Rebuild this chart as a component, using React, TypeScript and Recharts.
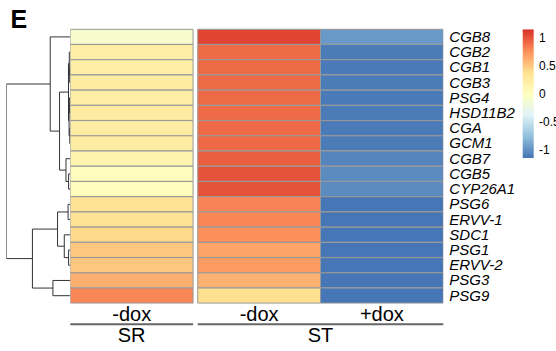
import React from 'react';
import { BarChart, Bar, XAxis, YAxis, Cell, ScatterChart, Scatter } from 'recharts';

// ---------- data ----------
const genes = ['CGB8', 'CGB2', 'CGB1', 'CGB3', 'PSG4', 'HSD11B2', 'CGA', 'GCM1', 'CGB7', 'CGB5', 'CYP26A1', 'PSG6', 'ERVV-1', 'SDC1', 'PSG1', 'ERVV-2', 'PSG3', 'PSG9'];
const srMinusDox = [-0.1, 0.22, 0.22, 0.24, 0.22, 0.23, 0.24, 0.23, 0.14, 0.03, 0.03, 0.36, 0.36, 0.42, 0.5, 0.5, 0.61, 0.8];
const stMinusDox = [1.07, 0.91, 0.92, 0.91, 0.92, 0.91, 0.91, 0.92, 0.96, 1.01, 1.01, 0.81, 0.8, 0.76, 0.66, 0.7, 0.6, 0.38];
const stPlusDox = [-0.97, -1.12, -1.13, -1.12, -1.13, -1.12, -1.13, -1.12, -1.07, -1.04, -1.04, -1.15, -1.15, -1.15, -1.15, -1.15, -1.15, -1.15];
const columnLabels = ['-dox', '-dox', '+dox'];
const groupLabels = ['SR', 'ST'];
const groupColumns = [[0, 0], [1, 2]];
const legendTicks = [-1, -0.5, 0, 0.5, 1];
const paletteColors = ['#4575B4', '#91BFDB', '#E0F3F8', '#FFFFBF', '#FEE090', '#FC8D59', '#D73027'];
const zMax = 1.155;
// hclust-style merges: negative = leaf (1-based row), positive = earlier merge
const mergeMatrix = [
  [-7, -8], [-3, -4], [-5, -6], [-2, 2], [3, 1], [-10, -11], [-15, -16], [4, 5], [-12, -13],
  [-9, 6], [-14, 7], [8, 10], [9, 11], [-17, -18], [-1, 12], [13, 14], [15, 16],
];
const mergeHeights = [0.5, 0.6, 0.7, 1.0, 1.2, 1.7, 1.7, 1.8, 2.2, 4.3, 6, 10.7, 12.7, 17.3, 20, 37.7, 63.7];

// ---------- layout ----------
const W = 556;
const H = 351;
const HM_LEFT = 70.3;
const HM_RIGHT = 443.3;
const TOP = 29.3;
const BOTTOM = 303.3;
const GAP = 0.038;
const colStarts = [0, 1 + GAP, 2 + GAP];
const TOTAL = 3 + GAP;
const PX = (HM_RIGHT - HM_LEFT) / TOTAL;
const colCenters = colStarts.map((s) => s + 0.5);
const groupCenters = groupColumns.map(([a, b]) => (colStarts[a] + colStarts[b] + 1) / 2);
const FONT = "'Liberation Sans', Arial, Helvetica, sans-serif";

function hexToRgb(h: string) {
  const n = parseInt(h.slice(1), 16);
  return [(n >> 16) & 255, (n >> 8) & 255, n & 255];
}
function colorFor(z: number) {
  const n = paletteColors.length;
  let t = (z + zMax) / (2 * zMax);
  t = Math.max(0, Math.min(1, t));
  const pos = t * (n - 1);
  const i = Math.min(Math.floor(pos), n - 2);
  const f = pos - i;
  const a = hexToRgb(paletteColors[i]);
  const b = hexToRgb(paletteColors[i + 1]);
  const c = a.map((v, k) => Math.round(v + (b[k] - v) * f));
  return `rgb(${c[0]},${c[1]},${c[2]})`;
}

const rows = genes.map((gene) => ({ gene, sr: 1, gap: GAP, stm: 1, stp: 1 }));

// dendrogram segments
type Node = { h: number; r: number };
const nodes: Node[] = [];
const getNode = (id: number): Node => (id < 0 ? { h: 0, r: -id - 0.5 } : nodes[id - 1]);
const dendroSegments = mergeMatrix.map(([a, b], i) => {
  const A = getNode(a);
  const B = getNode(b);
  const h = mergeHeights[i];
  nodes.push({ h, r: (A.r + B.r) / 2 });
  return [
    { h: A.h, r: A.r },
    { h, r: A.r },
    { h, r: B.r },
    { h: B.h, r: B.r },
  ];
});

const ColTick = (props: any) => {
  const { x, y, index } = props;
  return (
    <text x={x} y={y + 18} textAnchor="middle" fontSize={20} fill="#000" fontFamily={FONT}>
      {columnLabels[index]}
    </text>
  );
};

const GroupTick = (props: any) => {
  const { x, y, index } = props;
  const [a, b] = groupColumns[index];
  const half = ((colStarts[b] + 1 - colStarts[a]) / 2) * PX;
  return (
    <g>
      <line x1={x - half} x2={x + half} y1={y + 1} y2={y + 1} stroke="#666" strokeWidth={2} />
      <text x={x} y={y + 18.2} textAnchor="middle" fontSize={20} fill="#000" fontFamily={FONT}>
        {groupLabels[index]}
      </text>
    </g>
  );
};

const GeneTick = (props: any) => {
  const { x, y, payload } = props;
  return (
    <text x={x} y={y + 5} textAnchor="start" fontSize={15} fontStyle="italic" fill="#000" fontFamily={FONT}>
      {payload.value}
    </text>
  );
};

const layer: React.CSSProperties = { position: 'absolute', left: 0, top: 0 };

export default function App() {
  const YW = 100;
  return (
    <div style={{ position: 'absolute', left: 0, top: 0, width: W, height: H, background: '#fff', fontFamily: FONT, overflow: 'hidden' }}>
      <div style={layer}>
        <svg width={60} height={40}>
          <text x={10.5} y={28} fontSize={25} fontWeight="bold" fill="#000" fontFamily={FONT}>E</text>
        </svg>
      </div>

      {/* dendrogram */}
      <div style={layer}>
        <ScatterChart width={W} height={H} margin={{ top: TOP, bottom: H - BOTTOM, left: 6.3, right: W - HM_LEFT }}>
          <XAxis type="number" dataKey="h" domain={[0, 63.7]} reversed hide allowDataOverflow />
          <YAxis type="number" dataKey="r" domain={[0, genes.length]} reversed hide allowDataOverflow />
          {dendroSegments.map((seg, i) => (
            <Scatter
              key={i}
              data={seg}
              fill="#333"
              line={{ stroke: '#333', strokeWidth: 1 }}
              shape={() => <g />}
              isAnimationActive={false}
            />
          ))}
        </ScatterChart>
      </div>

      {/* heatmap */}
      <div style={layer}>
        <BarChart
          width={W}
          height={H}
          data={rows}
          layout="vertical"
          barCategoryGap={0}
          barGap={0}
          margin={{ top: TOP, left: HM_LEFT, right: W - HM_RIGHT - YW, bottom: 0 }}
        >
          <XAxis xAxisId="c" type="number" domain={[0, TOTAL]} ticks={colCenters} interval={0} axisLine={false} tickLine={false} tickSize={0} tickMargin={0} height={20} tick={(p: any) => <ColTick {...p} />} allowDataOverflow />
          <XAxis xAxisId="g" type="number" domain={[0, TOTAL]} ticks={groupCenters} interval={0} axisLine={false} tickLine={false} tickSize={0} tickMargin={0} height={H - BOTTOM - 20} tick={(p: any) => <GroupTick {...p} />} allowDataOverflow />
          <YAxis type="category" dataKey="gene" orientation="right" width={YW} axisLine={false} tickLine={false} tickSize={0} tickMargin={6} interval={0} tick={(p: any) => <GeneTick {...p} />} />
          <Bar xAxisId="c" dataKey="sr" stackId="a" isAnimationActive={false}>
            {srMinusDox.map((z, i) => (
              <Cell key={i} fill={colorFor(z)} stroke="#999" strokeWidth={1} />
            ))}
          </Bar>
          <Bar xAxisId="c" dataKey="gap" stackId="a" fill="none" isAnimationActive={false} />
          <Bar xAxisId="c" dataKey="stm" stackId="a" isAnimationActive={false}>
            {stMinusDox.map((z, i) => (
              <Cell key={i} fill={colorFor(z)} stroke="#999" strokeWidth={1} />
            ))}
          </Bar>
          <Bar xAxisId="c" dataKey="stp" stackId="a" isAnimationActive={false}>
            {stPlusDox.map((z, i) => (
              <Cell key={i} fill={colorFor(z)} stroke="#999" strokeWidth={1} />
            ))}
          </Bar>
        </BarChart>
      </div>

      {/* colour legend */}
      <div style={layer}>
        <BarChart
          width={W}
          height={H}
          data={[{ k: 'scale', v: [-zMax, zMax] }]}
          barCategoryGap={0}
          margin={{ top: TOP, left: 522.7, right: 0, bottom: H - 158 }}
        >
          <defs>
            <linearGradient id="cbar" x1="0" y1="1" x2="0" y2="0">
              {paletteColors.map((c, i) => (
                <stop key={i} offset={`${(i / (paletteColors.length - 1)) * 100}%`} stopColor={c} />
              ))}
            </linearGradient>
          </defs>
          <XAxis dataKey="k" hide />
          <YAxis type="number" domain={[-zMax, zMax]} orientation="right" width={W - 534} ticks={legendTicks} interval={0} axisLine={false} tickLine={false} tickSize={3} tickMargin={2} tick={{ fontSize: 12, fill: '#000', fontFamily: FONT }} allowDataOverflow />
          <Bar dataKey="v" fill="url(#cbar)" isAnimationActive={false} />
        </BarChart>
      </div>
    </div>
  );
}
